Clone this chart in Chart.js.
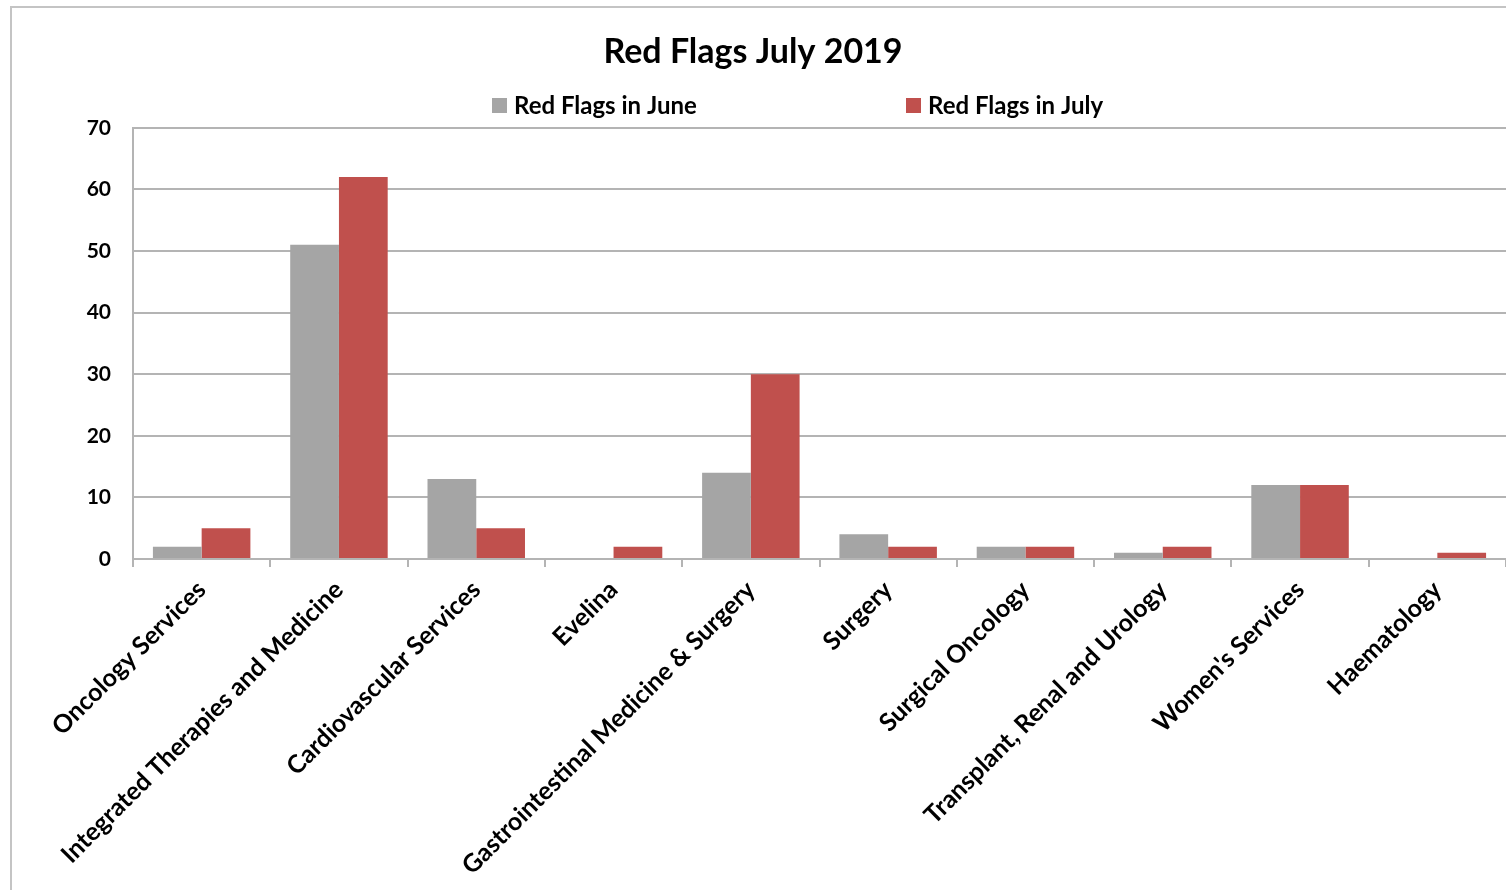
<!DOCTYPE html>
<html lang="en">
<head>
    <meta charset="UTF-8">
    <title>Red Flags July 2019</title>
    <script src="https://cdn.jsdelivr.net/npm/chart.js"></script>
    <style>
        html, body { margin: 0; padding: 0; background: #fff; }
        #wrap { position: relative; width: 1506px; height: 890px; overflow: hidden; }
        /* outer frame of the chart, only top and left edges are visible */
        #frame {
            position: absolute; left: 10px; top: 6px; width: 1600px; height: 1000px;
            border-left: 2px solid #c4c4c4; border-top: 2px solid #c4c4c4;
        }
        #myChart { position: absolute; left: 0; top: 0; }
    </style>
</head>
<body>
    <div id="wrap">
        <div id="frame"></div>
        <canvas id="myChart" width="1506" height="890"></canvas>
    </div>

    <script>
        // Chart data
        const categories = [
            'Oncology Services',
            'Integrated Therapies and Medicine',
            'Cardiovascular Services',
            'Evelina',
            'Gastrointestinal Medicine & Surgery',
            'Surgery',
            'Surgical Oncology',
            'Transplant, Renal and Urology',
            "Women's Services",
            'Haematology'
        ];
        const juneFlags = [2, 51, 13, 0, 14, 4, 2, 1, 12, 0];
        const julyFlags = [5, 62, 5, 2, 30, 2, 2, 2, 12, 1];
        const yTicks = [0, 10, 20, 30, 40, 50, 60, 70];

        const FONT = 'Lato, "Open Sans", sans-serif';
        const gridColor = '#b4b4b4';

        // Legend drawn by hand: Excel spreads the two entries far apart,
        // which the built-in legend can't do without also growing tall.
        const wideLegend = {
            id: 'wideLegend',
            afterDraw(chart) {
                const c = chart.ctx;
                const y = 105;
                const starts = [492, 906];
                c.save();
                c.font = 'bold 24px ' + FONT;
                c.textBaseline = 'middle';
                c.textAlign = 'left';
                chart.data.datasets.forEach((ds, i) => {
                    c.fillStyle = ds.backgroundColor;
                    c.fillRect(starts[i], y - 7, 15, 15);
                    c.fillStyle = '#000';
                    c.fillText(ds.label, starts[i] + 22, y + 1);
                });
                c.restore();
            }
        };

        const ctx = document.getElementById('myChart').getContext('2d');
        const myChart = new Chart(ctx, {
            type: 'bar',
            data: {
                labels: categories,
                datasets: [{
                    label: 'Red Flags in June',
                    data: juneFlags,
                    backgroundColor: '#a5a5a5',
                    borderWidth: 0
                }, {
                    label: 'Red Flags in July',
                    data: julyFlags,
                    backgroundColor: '#c0504d',
                    borderWidth: 0
                }]
            },
            options: {
                responsive: false,
                animation: false,
                datasets: {
                    bar: {
                        categoryPercentage: 0.71,
                        barPercentage: 1.0
                    }
                },
                layout: {
                    padding: { left: 0, right: 0, top: 32, bottom: 0 }
                },
                plugins: {
                    title: {
                        display: true,
                        text: 'Red Flags July 2019',
                        color: '#000',
                        font: { family: FONT, size: 34, weight: 'bold', lineHeight: 1.2 },
                        padding: { top: 0, bottom: 55 }
                    },
                    legend: { display: false },
                    tooltip: { enabled: false }
                },
                scales: {
                    x: {
                        grid: {
                            offset: true,
                            drawOnChartArea: false,
                            drawTicks: true,
                            tickLength: 8,
                            color: gridColor,
                            lineWidth: 2
                        },
                        border: { color: gridColor, width: 2 },
                        ticks: {
                            color: '#000',
                            font: { family: FONT, size: 25, weight: 'bold' },
                            maxRotation: 45,
                            minRotation: 45,
                            autoSkip: false,
                            padding: 8
                        },
                        afterFit(scale) { scale.height = 331; }
                    },
                    y: {
                        min: 0,
                        max: 70,
                        afterBuildTicks(scale) {
                            scale.ticks = yTicks.map(v => ({ value: v }));
                        },
                        grid: {
                            color: gridColor,
                            lineWidth: 2,
                            drawTicks: false
                        },
                        border: { color: gridColor, width: 2 },
                        ticks: {
                            color: '#000',
                            font: { family: FONT, size: 21, weight: 'bold' },
                            padding: 22
                        },
                        afterFit(scale) { scale.width = 133; }
                    }
                }
            },
            plugins: [wideLegend]
        });
    </script>
</body>
</html>
